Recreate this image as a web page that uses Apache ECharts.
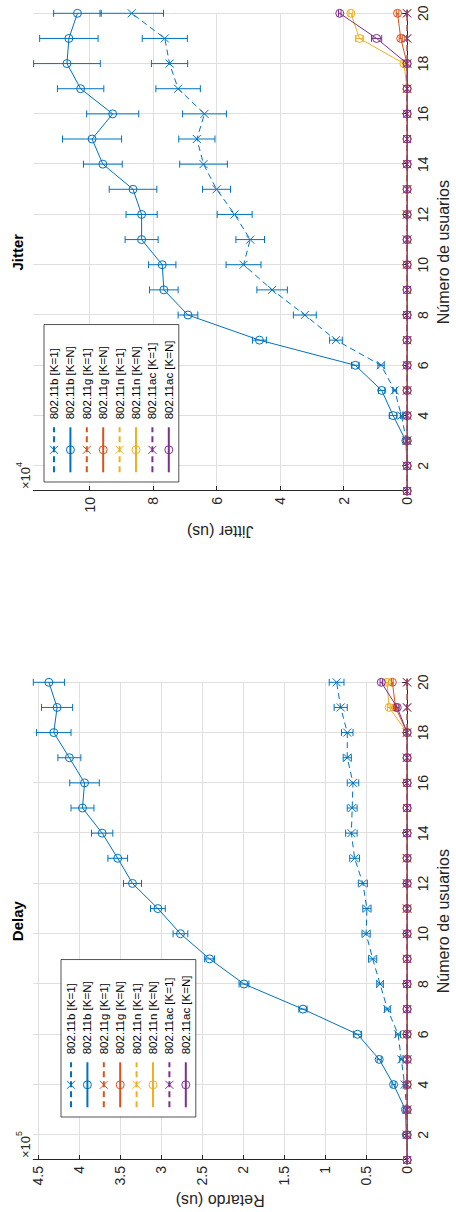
<!DOCTYPE html>
<html>
<head>
<meta charset="utf-8">
<script src="https://cdn.jsdelivr.net/npm/echarts@6/dist/echarts.min.js"></script>
<style>
html, body { margin: 0; padding: 0; overflow: hidden; background: #fff; width: 456px; height: 1212px; }
#chart { position: absolute; left: 0; top: 0; width: 1212px; height: 456px;
  transform-origin: 0 0; transform: translate(0, 1212px) rotate(-90deg); }
</style>
</head>
<body>
<div id="chart"></div>
<script>
// ---------------- data ----------------
const users = [1, 2, 3, 4, 5, 6, 7, 8, 9, 10, 11, 12, 13, 14, 15, 16, 17, 18, 19, 20];
const userTicks = [2, 4, 6, 8, 10, 12, 14, 16, 18, 20];
const delayTicks = [0, 0.5, 1, 1.5, 2, 2.5, 3, 3.5, 4, 4.5];   // x 1e5
const jitterTicks = [0, 2, 4, 6, 8, 10];                       // x 1e4
const seriesNames = ['802.11b [K=1]', '802.11b [K=N]', '802.11g [K=1]', '802.11g [K=N]',
                     '802.11n [K=1]', '802.11n [K=N]', '802.11ac [K=1]', '802.11ac [K=N]'];

// Delay (us), in units of 1e5
const delayB1    = [0, 0.002, 0.005, 0.03, 0.07, 0.11, 0.24, 0.33, 0.42, 0.50, 0.49, 0.54, 0.64, 0.68, 0.67, 0.66, 0.73, 0.73, 0.81, 0.86];
const delayB1Err = [0, 0, 0.003, 0.01, 0.02, 0.03, 0.035, 0.04, 0.05, 0.05, 0.05, 0.055, 0.06, 0.07, 0.06, 0.07, 0.05, 0.07, 0.08, 0.09];
const delayBN    = [0, 0.01, 0.02, 0.165, 0.34, 0.605, 1.27, 1.99, 2.41, 2.765, 3.04, 3.35, 3.53, 3.72, 3.96, 3.935, 4.12, 4.31, 4.27, 4.37];
const delayBNErr = [0, 0.005, 0.005, 0.02, 0.025, 0.05, 0.05, 0.06, 0.06, 0.09, 0.09, 0.11, 0.12, 0.13, 0.14, 0.18, 0.14, 0.21, 0.19, 0.19];
const delayG1    = [0, 0, 0, 0, 0, 0, 0, 0, 0, 0, 0, 0, 0, 0, 0, 0, 0, 0, 0, 0];
const delayG1Err = [0, 0, 0, 0, 0, 0, 0, 0, 0, 0, 0, 0, 0, 0, 0, 0, 0, 0, 0, 0];
const delayGN    = [0, 0, 0, 0, 0, 0, 0, 0, 0, 0, 0, 0, 0, 0, 0, 0, 0, 0, 0.14, 0.18];
const delayGNErr = [0, 0, 0, 0, 0, 0, 0, 0, 0, 0, 0, 0, 0, 0, 0, 0, 0, 0, 0.015, 0.01];
const delayN1    = [0, 0, 0, 0, 0, 0, 0, 0, 0, 0, 0, 0, 0, 0, 0, 0, 0, 0, 0, 0];
const delayN1Err = [0, 0, 0, 0, 0, 0, 0, 0, 0, 0, 0, 0, 0, 0, 0, 0, 0, 0, 0, 0];
const delayNN    = [0, 0, 0, 0, 0, 0, 0, 0, 0, 0, 0, 0, 0, 0, 0, 0, 0, 0, 0.22, 0.245];
const delayNNErr = [0, 0, 0, 0, 0, 0, 0, 0, 0, 0, 0, 0, 0, 0, 0, 0, 0, 0, 0.02, 0.015];
const delayA1    = [0, 0, 0, 0, 0, 0, 0, 0, 0, 0, 0, 0, 0, 0, 0, 0, 0, 0, 0, 0];
const delayA1Err = [0, 0, 0, 0, 0, 0, 0, 0, 0, 0, 0, 0, 0, 0, 0, 0, 0, 0, 0, 0];
const delayAN    = [0, 0, 0, 0, 0, 0, 0, 0, 0, 0, 0, 0, 0, 0, 0, 0, 0, 0, 0.12, 0.315];
const delayANErr = [0, 0, 0, 0, 0, 0, 0, 0, 0, 0, 0, 0, 0, 0, 0, 0, 0, 0, 0.02, 0.015];

// Jitter (us), in units of 1e4
const jitB1    = [0, 0, 0.02, 0.18, 0.39, 0.82, 2.24, 3.22, 4.25, 5.15, 4.94, 5.43, 6.0, 6.41, 6.62, 6.38, 7.21, 7.48, 7.63, 8.67];
const jitB1Err = [0, 0, 0.01, 0.03, 0.06, 0.1, 0.2, 0.36, 0.48, 0.55, 0.45, 0.55, 0.44, 0.75, 0.57, 0.69, 0.70, 0.57, 0.71, 1.0];
const jitBN    = [0, 0, 0.04, 0.44, 0.80, 1.63, 4.65, 6.9, 7.66, 7.71, 8.36, 8.36, 8.63, 9.58, 9.92, 9.27, 10.28, 10.71, 10.65, 10.38];
const jitBNErr = [0, 0, 0.02, 0.12, 0.1, 0.12, 0.22, 0.31, 0.45, 0.43, 0.52, 0.49, 0.75, 0.61, 0.93, 0.82, 0.73, 1.05, 0.92, 0.75];
const jitG1    = [0, 0, 0, 0, 0, 0, 0, 0, 0, 0, 0, 0, 0, 0, 0, 0, 0, 0, 0, 0];
const jitG1Err = [0, 0, 0, 0, 0, 0, 0, 0, 0, 0, 0, 0, 0, 0, 0, 0, 0, 0, 0, 0];
const jitGN    = [0, 0, 0, 0, 0, 0, 0, 0, 0, 0, 0, 0, 0, 0, 0, 0, 0, 0, 0.2, 0.30];
const jitGNErr = [0, 0, 0, 0, 0, 0, 0, 0, 0, 0, 0, 0, 0, 0, 0, 0, 0, 0, 0.05, 0.04];
const jitN1    = [0, 0, 0, 0, 0, 0, 0, 0, 0, 0, 0, 0, 0, 0, 0, 0, 0, 0, 0, 0];
const jitN1Err = [0, 0, 0, 0, 0, 0, 0, 0, 0, 0, 0, 0, 0, 0, 0, 0, 0, 0, 0, 0];
const jitNN    = [0, 0, 0, 0, 0, 0, 0, 0, 0, 0, 0, 0, 0, 0, 0, 0, 0, 0.1, 1.50, 1.77];
const jitNNErr = [0, 0, 0, 0, 0, 0, 0, 0, 0, 0, 0, 0, 0, 0, 0, 0, 0, 0.03, 0.12, 0.06];
const jitA1    = [0, 0, 0, 0, 0, 0, 0, 0, 0, 0, 0, 0, 0, 0, 0, 0, 0, 0, 0, 0];
const jitA1Err = [0, 0, 0, 0, 0, 0, 0, 0, 0, 0, 0, 0, 0, 0, 0, 0, 0, 0, 0, 0];
const jitAN    = [0, 0, 0, 0, 0, 0, 0, 0, 0, 0, 0, 0, 0, 0, 0, 0, 0, 0, 0.96, 2.12];
const jitANErr = [0, 0, 0, 0, 0, 0, 0, 0, 0, 0, 0, 0, 0, 0, 0, 0, 0, 0, 0.16, 0.04];

// ---------------- styling / layout ----------------
const COLORS = ['#0072BD', '#D95319', '#EDB120', '#7E2F8E'];
const FONT = '"Liberation Sans", Arial, Helvetica, sans-serif';
const AX = '#262626';
const GRIDC = '#dfdfdf';
const CROSS = 'path://M0,0L10,10M10,0L0,10';
const CIRCLE = 'path://M0,5A5,5,0,1,1,10,5A5,5,0,1,1,0,5Z';

const panels = [
  { title: 'Delay', yName: 'Retardo (us)', exp: '5', scale: 1e5, max: 4.56, step: 0.5, ticks: delayTicks,
    grid: { left: 52, top: 33.3, width: 477.7, height: 377.2 }, legend: { left: 95, top: 61 },
    vals: [delayB1, delayBN, delayG1, delayGN, delayN1, delayNN, delayA1, delayAN],
    errs: [delayB1Err, delayBNErr, delayG1Err, delayGNErr, delayN1Err, delayNNErr, delayA1Err, delayANErr] },
  { title: 'Jitter', yName: 'Jitter (us)', exp: '4', scale: 1e4, max: 11.77, step: 2, ticks: jitterTicks,
    grid: { left: 721, top: 33.3, width: 477.7, height: 377.2 }, legend: { left: 730, top: 44 },
    vals: [jitB1, jitBN, jitG1, jitGN, jitN1, jitNN, jitA1, jitAN],
    errs: [jitB1Err, jitBNErr, jitG1Err, jitGNErr, jitN1Err, jitNNErr, jitA1Err, jitANErr] }
];

const showUserTick = (idx, v) => userTicks.indexOf(Number(v)) >= 0;

const grids = [], xAxes = [], yAxes = [], titles = [], legends = [], series = [];

panels.forEach((p, gi) => {
  grids.push(Object.assign({ containLabel: false }, p.grid));
  titles.push({
    text: p.title, left: p.grid.left + p.grid.width / 2, top: 10, textAlign: 'center', padding: 0,
    textStyle: { fontSize: 15, fontWeight: 'bold', color: '#000', fontFamily: FONT }
  });
  xAxes.push({
    type: 'category', gridIndex: gi, data: users, boundaryGap: false, position: 'bottom',
    axisLine: { lineStyle: { color: AX, width: 1 } },
    axisTick: { inside: true, length: 5, interval: showUserTick, lineStyle: { color: AX } },
    axisLabel: { interval: showUserTick, margin: 9, fontSize: 14, color: AX, fontFamily: FONT },
    splitLine: { show: true, interval: showUserTick, lineStyle: { color: GRIDC, width: 1 } },
    name: 'Número de usuarios', nameLocation: 'middle', nameGap: 25,
    nameTextStyle: { fontSize: 16, color: AX, fontFamily: FONT }
  });
  yAxes.push({
    type: 'value', gridIndex: gi, position: 'left', min: 0, max: p.max * p.scale, interval: p.step * p.scale,
    axisLine: { show: true, lineStyle: { color: AX, width: 1 } },
    axisTick: { show: true, inside: true, length: 5, lineStyle: { color: AX } },
    axisLabel: {
      margin: 6, fontSize: 14, color: AX, fontFamily: FONT, showMaxLabel: false,
      formatter: v => {
        const t = v / p.scale;
        const hit = p.ticks.find(d => Math.abs(d - t) < 1e-9);
        return hit === undefined ? '' : String(hit);
      }
    },
    splitLine: { show: true, showMaxLine: false, lineStyle: { color: GRIDC, width: 1 } },
    name: p.yName, nameLocation: 'middle', nameRotate: 90, nameGap: 32,
    nameTextStyle: { fontSize: 16, color: AX, fontFamily: FONT }
  });
  yAxes.push({
    type: 'value', gridIndex: gi, position: 'left', offset: 0, min: 0, max: p.max * p.scale,
    axisLine: { show: false }, axisTick: { show: false }, axisLabel: { show: false }, splitLine: { show: false },
    name: '{a|×10}{b|' + p.exp + '}', nameLocation: 'end', nameGap: 1,
    nameTextStyle: {
      align: 'left', verticalAlign: 'bottom', padding: [0, 0, 0, 2],
      rich: {
        a: { fontSize: 13, color: AX, fontFamily: FONT, verticalAlign: 'bottom', lineHeight: 18 },
        b: { fontSize: 9, color: AX, fontFamily: FONT, verticalAlign: 'top', lineHeight: 18 }
      }
    }
  });
  legends.push({
    data: seriesNames, orient: 'vertical', left: p.legend.left, top: p.legend.top,
    padding: [2, 16, 2, 8.7], itemWidth: 45, itemHeight: 10, itemGap: 0.4,
    backgroundColor: '#fff', borderColor: AX, borderWidth: 0.8, selectedMode: false,
    itemStyle: { borderWidth: 1 },
    textStyle: { fontSize: 11.5, lineHeight: 16, color: '#000', fontFamily: FONT, padding: [0, 0, 0, 3] }
  });

  seriesNames.forEach((name, k) => {
    const color = COLORS[Math.floor(k / 2)];
    const isK1 = k % 2 === 0;
    const vals = p.vals[k].map(v => v * p.scale);
    const errs = p.errs[k].map(v => v * p.scale);
    const z = 2 + k;
    series.push({
      type: 'custom', name: name + ' error', xAxisIndex: gi, yAxisIndex: gi * 2, z: z, silent: true,
      animation: false, clip: false,
      data: vals.map((v, i) => [i, v, errs[i]]),
      encode: { x: 0, y: 1 },
      renderItem: (params, api) => {
        const i = api.value(0), v = api.value(1), e = api.value(2);
        const lo = api.coord([i, Math.max(0, v - e)]);
        const hi = api.coord([i, v + e]);
        const w = 3.5;
        const st = { stroke: color, lineWidth: 1, fill: null };
        return {
          type: 'group', children: [
            { type: 'line', shape: { x1: lo[0], y1: lo[1], x2: hi[0], y2: hi[1] }, style: st },
            { type: 'line', shape: { x1: lo[0] - w, y1: lo[1], x2: lo[0] + w, y2: lo[1] }, style: st },
            { type: 'line', shape: { x1: hi[0] - w, y1: hi[1], x2: hi[0] + w, y2: hi[1] }, style: st }
          ]
        };
      }
    });
    series.push({
      type: 'line', name: name, xAxisIndex: gi, yAxisIndex: gi * 2, z: z, data: vals,
      symbol: isK1 ? CROSS : CIRCLE, symbolSize: 8, showAllSymbol: true, clip: false,
      animation: false, emphasis: { disabled: true }, silent: true,
      lineStyle: { color: color, width: 1, type: isK1 ? [6, 4] : 'solid' },
      itemStyle: { color: 'rgba(0,0,0,0)', borderColor: color, borderWidth: 1 }
    });
  });
});

const chart = echarts.init(document.getElementById('chart'), null, { renderer: 'svg', width: 1212, height: 456 });
chart.setOption({
  animation: false,
  backgroundColor: '#fff',
  textStyle: { fontFamily: FONT },
  title: titles,
  grid: grids,
  xAxis: xAxes,
  yAxis: yAxes,
  legend: legends,
  series: series
});
</script>
</body>
</html>
